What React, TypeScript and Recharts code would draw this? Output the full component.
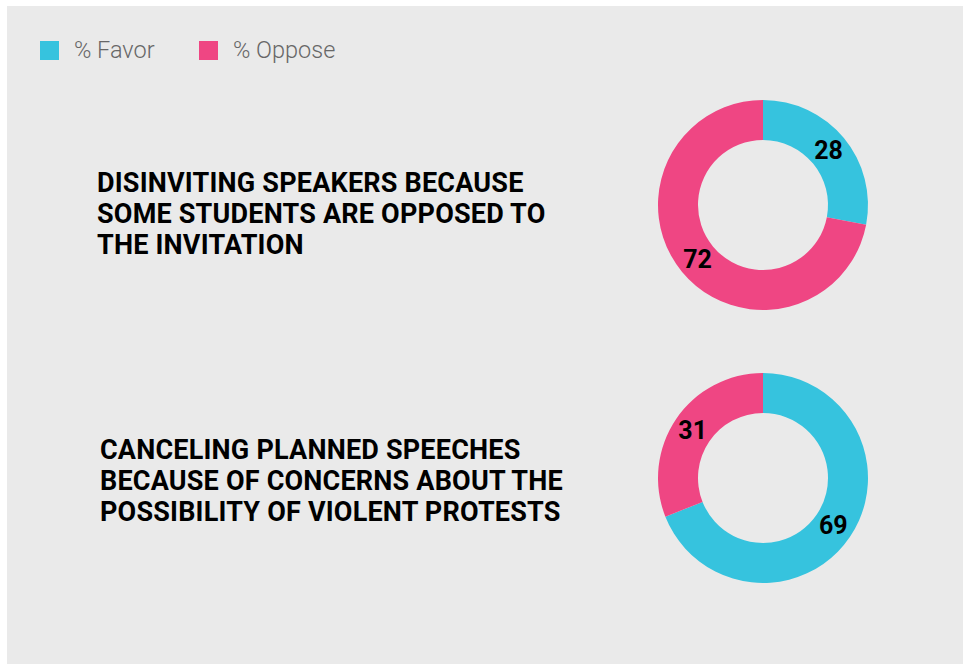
import React from "react";
import { PieChart, Pie, Cell } from "recharts";

const seriesNames = ["% Favor", "% Oppose"];
const seriesColors = ["#36C3DE", "#EF4683"];

const titleTop = ["DISINVITING SPEAKERS BECAUSE", "SOME STUDENTS ARE OPPOSED TO", "THE INVITATION"];
const titleBottom = ["CANCELING PLANNED SPEECHES", "BECAUSE OF CONCERNS ABOUT THE", "POSSIBILITY OF VIOLENT PROTESTS"];

const favorValues = [28, 69];
const opposeValues = [72, 31];

const topData = [
  { name: seriesNames[0], value: favorValues[0] },
  { name: seriesNames[1], value: opposeValues[0] },
];
const bottomData = [
  { name: seriesNames[0], value: favorValues[1] },
  { name: seriesNames[1], value: opposeValues[1] },
];

const RADIAN = Math.PI / 180;
const renderLabel = (props: any) => {
  const { cx, cy, midAngle, innerRadius, outerRadius, value } = props;
  const r = (innerRadius + outerRadius) / 2;
  const x = cx + r * Math.cos(-midAngle * RADIAN);
  const y = cy + r * Math.sin(-midAngle * RADIAN);
  return (
    <text
      x={x}
      y={y}
      fill="#000"
      textAnchor="middle"
      dominantBaseline="central"
      style={{ fontFamily: "Roboto, sans-serif", fontWeight: 700, fontSize: 25 }}
    >
      {value}
    </text>
  );
};

const titleStyle: React.CSSProperties = {
  position: "absolute",
  fontFamily: "Roboto, sans-serif",
  fontWeight: 700,
  fontSize: 27,
  letterSpacing: 0.2,
  lineHeight: "31px",
  color: "#000",
  whiteSpace: "nowrap",
};

export default function App() {
  return (
    <div style={{ position: "absolute", left: 0, top: 0, width: 963, height: 664, background: "#fff" }}>
      <div style={{ position: "absolute", left: 7, top: 6, width: 956, height: 658, background: "#EAEAEA" }} />
      {/* legend */}
      <div style={{ position: "absolute", left: 0, top: 0 }}>
        {seriesNames.map((n, i) => (
          <div key={n} style={{ position: "absolute", left: i === 0 ? 40 : 199, top: 41, display: "flex", alignItems: "center", whiteSpace: "nowrap" }}>
            <div style={{ width: 19, height: 19, background: seriesColors[i] }} />
            <span style={{ marginLeft: 15, fontFamily: "Roboto, sans-serif", fontWeight: 300, fontSize: 23.5, color: "#676767", lineHeight: "19px" }}>{n}</span>
          </div>
        ))}
      </div>
      <div style={{ ...titleStyle, left: 97, top: 168 }}>
        {titleTop.map((t) => (
          <div key={t}>{t}</div>
        ))}
      </div>
      <div style={{ ...titleStyle, left: 100, top: 435 }}>
        {titleBottom.map((t) => (
          <div key={t}>{t}</div>
        ))}
      </div>
      <div style={{ position: "absolute", left: 0, top: 0 }}>
        <PieChart width={963} height={664} margin={{ top: 0, right: 0, bottom: 0, left: 0 }}>
          <Pie
            data={topData}
            dataKey="value"
            cx={763}
            cy={205}
            innerRadius={65}
            outerRadius={105}
            startAngle={90}
            endAngle={-270}
            stroke="none"
            isAnimationActive={false}
            label={renderLabel}
            labelLine={false}
          >
            {topData.map((d, i) => (
              <Cell key={d.name} fill={seriesColors[i]} />
            ))}
          </Pie>
          <Pie
            data={bottomData}
            dataKey="value"
            cx={763}
            cy={478}
            innerRadius={65}
            outerRadius={105}
            startAngle={90}
            endAngle={-270}
            stroke="none"
            isAnimationActive={false}
            label={renderLabel}
            labelLine={false}
          >
            {bottomData.map((d, i) => (
              <Cell key={d.name} fill={seriesColors[i]} />
            ))}
          </Pie>
        </PieChart>
      </div>
    </div>
  );
}
